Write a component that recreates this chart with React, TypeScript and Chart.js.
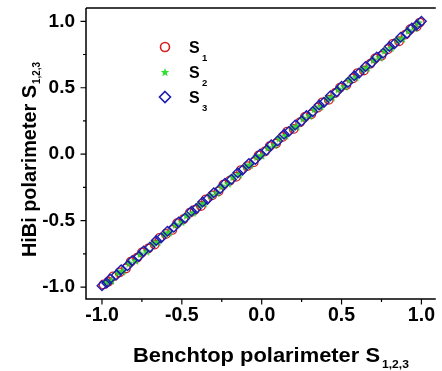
import React, { useEffect, useRef } from 'react';
import { Chart, registerables } from 'chart.js';
Chart.register(...registerables);

const S1_X = [-0.99,-0.96,-0.93,-0.89,-0.85,-0.82,-0.78,-0.75,-0.71,-0.67,-0.64,-0.60,-0.56,-0.53,-0.49,-0.45,-0.42,-0.38,-0.35,-0.31,-0.27,-0.24,-0.20,-0.16,-0.13,-0.09,-0.05,-0.02,0.02,0.05,0.09,0.13,0.16,0.20,0.24,0.27,0.31,0.35,0.38,0.42,0.46,0.49,0.53,0.57,0.60,0.64,0.68,0.71,0.75,0.79,0.82,0.86,0.90,0.93,0.97,0.99];
const S1_Y = [-0.98,-0.96,-0.92,-0.89,-0.86,-0.81,-0.78,-0.74,-0.71,-0.68,-0.63,-0.60,-0.57,-0.52,-0.49,-0.44,-0.42,-0.39,-0.34,-0.31,-0.28,-0.23,-0.20,-0.17,-0.12,-0.09,-0.06,-0.01,0.02,0.06,0.08,0.13,0.17,0.19,0.24,0.28,0.30,0.35,0.39,0.41,0.46,0.50,0.52,0.57,0.61,0.63,0.68,0.72,0.74,0.79,0.83,0.85,0.90,0.94,0.96,0.99];
const S2_X = [-0.97,-0.94,-0.90,-0.87,-0.83,-0.79,-0.76,-0.72,-0.68,-0.65,-0.61,-0.58,-0.54,-0.50,-0.47,-0.43,-0.39,-0.36,-0.32,-0.28,-0.25,-0.21,-0.18,-0.14,-0.10,-0.07,-0.03,0.00,0.04,0.08,0.11,0.15,0.19,0.22,0.26,0.30,0.33,0.37,0.41,0.44,0.48,0.52,0.55,0.59,0.63,0.66,0.70,0.74,0.77,0.81,0.85,0.88,0.92,0.96,0.98];
const S2_Y = [-0.96,-0.95,-0.89,-0.88,-0.82,-0.80,-0.75,-0.73,-0.67,-0.66,-0.60,-0.59,-0.53,-0.51,-0.46,-0.44,-0.38,-0.37,-0.31,-0.29,-0.24,-0.22,-0.17,-0.15,-0.09,-0.08,-0.02,-0.01,0.05,0.07,0.12,0.14,0.20,0.21,0.27,0.29,0.34,0.36,0.42,0.43,0.49,0.51,0.56,0.58,0.64,0.65,0.71,0.73,0.78,0.80,0.86,0.87,0.93,0.95,0.99];
const S3_X = [-1.00,-0.97,-0.95,-0.91,-0.88,-0.84,-0.81,-0.77,-0.74,-0.70,-0.66,-0.63,-0.59,-0.55,-0.52,-0.48,-0.44,-0.41,-0.37,-0.34,-0.30,-0.26,-0.23,-0.19,-0.15,-0.12,-0.08,-0.04,-0.01,0.03,0.06,0.10,0.14,0.17,0.21,0.25,0.28,0.32,0.36,0.39,0.43,0.47,0.50,0.54,0.58,0.61,0.65,0.69,0.72,0.76,0.80,0.83,0.87,0.91,0.94,0.97,1.00];
const S3_Y = [-0.99,-0.97,-0.94,-0.91,-0.87,-0.84,-0.80,-0.77,-0.73,-0.70,-0.65,-0.63,-0.58,-0.55,-0.51,-0.48,-0.43,-0.41,-0.36,-0.34,-0.29,-0.26,-0.22,-0.19,-0.14,-0.12,-0.07,-0.04,0.00,0.03,0.07,0.10,0.15,0.17,0.22,0.25,0.29,0.32,0.37,0.39,0.44,0.47,0.51,0.54,0.59,0.61,0.66,0.69,0.73,0.76,0.81,0.83,0.88,0.91,0.95,0.97,1.00];

const MAJOR_TICKS = [-1, -0.5, 0, 0.5, 1];
const MINOR_TICKS = [-0.75, -0.25, 0.25, 0.75];
const X_TITLE = 'Benchtop polarimeter S';
const Y_TITLE = 'HiBi polarimeter S';
const TITLE_SUB = '1,2,3';
const LEGEND_MAIN = ['S', 'S', 'S'];
const LEGEND_SUB = ['1', '2', '3'];

const RED = '#d21f1f';
const GREEN = '#2fe02f';
const BLUE = '#1c1cb0';
const FONT = '"Liberation Sans", Arial, sans-serif';

function starPath(ctx: CanvasRenderingContext2D, cx: number, cy: number, ro: number, ri: number) {
  ctx.beginPath();
  for (let i = 0; i < 10; i++) {
    const r = i % 2 === 0 ? ro : ri;
    const a = -Math.PI / 2 + (i * Math.PI) / 5;
    const px = cx + r * Math.cos(a);
    const py = cy + r * Math.sin(a);
    if (i === 0) ctx.moveTo(px, py); else ctx.lineTo(px, py);
  }
  ctx.closePath();
}

function makeStar(size: number) {
  const c = document.createElement('canvas');
  c.width = size; c.height = size;
  const g = c.getContext('2d')!;
  starPath(g, size / 2, size / 2 + 0.5, size / 2 - 0.5, size / 5);
  g.fillStyle = GREEN;
  g.fill();
  g.strokeStyle = '#22b022';
  g.lineWidth = 0.6;
  g.stroke();
  return c;
}

const decorPlugin = {
  id: 'decor',
  afterDraw(chart: any) {
    const { ctx, chartArea: a, scales } = chart;
    const xs = scales.x, ys = scales.y;
    ctx.save();
    ctx.strokeStyle = '#000';
    ctx.lineWidth = 1.5;
    ctx.beginPath();
    ctx.moveTo(a.left, a.top); ctx.lineTo(a.right, a.top);
    ctx.moveTo(a.left, a.top); ctx.lineTo(a.left, a.bottom);
    ctx.lineTo(a.right, a.bottom);
    ctx.stroke();
    ctx.lineWidth = 1.2;
    ctx.beginPath();
    const all = [...MAJOR_TICKS.map(v => [v, 5.5]), ...MINOR_TICKS.map(v => [v, 3])];
    for (const [v, len] of all) {
      const px = xs.getPixelForValue(v);
      ctx.moveTo(px, a.bottom); ctx.lineTo(px, a.bottom + len);
      const py = ys.getPixelForValue(v);
      ctx.moveTo(a.left, py); ctx.lineTo(a.left - len, py);
    }
    ctx.stroke();

    // X title
    ctx.fillStyle = '#000';
    ctx.textBaseline = 'alphabetic';
    ctx.textAlign = 'left';
    ctx.font = `bold 19.5px ${FONT}`;
    const wx = ctx.measureText(X_TITLE).width;
    const kx = 247 / wx;
    ctx.save();
    ctx.translate(133, 362);
    ctx.scale(kx, 1);
    ctx.fillText(X_TITLE, 0, 0);
    ctx.restore();
    ctx.font = `bold 11px ${FONT}`;
    ctx.save();
    ctx.translate(382, 368);
    ctx.scale(1.1, 1);
    ctx.fillText(TITLE_SUB, 0, 0);
    ctx.restore();

    // Y title
    ctx.font = `bold 20px ${FONT}`;
    const wy = ctx.measureText(Y_TITLE).width;
    const ky = 172 / wy;
    ctx.save();
    ctx.translate(36, 257);
    ctx.rotate(-Math.PI / 2);
    ctx.scale(ky, 1);
    ctx.fillText(Y_TITLE, 0, 0);
    ctx.restore();
    ctx.font = `bold 11px ${FONT}`;
    ctx.save();
    ctx.translate(40, 84);
    ctx.rotate(-Math.PI / 2);
    ctx.scale(0.9, 1);
    ctx.fillText(TITLE_SUB, 0, 0);
    ctx.restore();

    // Legend
    const lx = 165;
    const rows = [47, 72, 97];
    ctx.lineWidth = 1.6;
    ctx.strokeStyle = RED;
    ctx.beginPath(); ctx.arc(lx, rows[0], 4.5, 0, Math.PI * 2); ctx.stroke();
    starPath(ctx, lx, rows[1] + 0.5, 4.5, 1.9);
    ctx.fillStyle = GREEN; ctx.fill();
    ctx.strokeStyle = BLUE;
    ctx.beginPath();
    ctx.moveTo(lx, rows[2] - 5.5); ctx.lineTo(lx + 5.5, rows[2]);
    ctx.lineTo(lx, rows[2] + 5.5); ctx.lineTo(lx - 5.5, rows[2]); ctx.closePath();
    ctx.stroke();
    ctx.fillStyle = '#000';
    for (let i = 0; i < 3; i++) {
      ctx.font = `bold 16px ${FONT}`;
      ctx.fillText(LEGEND_MAIN[i], 189, rows[i] + 6);
      ctx.font = `bold 9.5px ${FONT}`;
      ctx.fillText(LEGEND_SUB[i], 202, rows[i] + 14);
    }
    ctx.restore();
  },
};

export default function App() {
  const ref = useRef<HTMLCanvasElement>(null);
  useEffect(() => {
    const star = makeStar(9);
    const toPts = (xs: number[], ys: number[]) => xs.map((v, i) => ({ x: v, y: ys[i] }));
    const tickList = [...MAJOR_TICKS, ...MINOR_TICKS].sort((p, q) => p - q);
    const label = (v: any) => (MAJOR_TICKS.includes(Number(v)) ? Number(v).toFixed(1) : '');
    const chart = new Chart(ref.current!, {
      type: 'scatter',
      data: {
        datasets: [
          { label: 'S1', data: toPts(S1_X, S1_Y), pointStyle: 'circle', pointRadius: 4.3, borderColor: RED, backgroundColor: 'rgba(0,0,0,0)', borderWidth: 1.3, order: 3 },
          { label: 'S2', data: toPts(S2_X, S2_Y), pointStyle: star as any, pointRadius: 4, borderColor: GREEN, backgroundColor: GREEN, order: 2 },
          { label: 'S3', data: toPts(S3_X, S3_Y), pointStyle: 'rectRot', pointRadius: 4.8, borderColor: BLUE, backgroundColor: 'rgba(0,0,0,0)', borderWidth: 1.4, order: 1 },
        ],
      },
      options: {
        animation: false,
        responsive: false,
        layout: { padding: { top: 8, left: 0, right: 0, bottom: 0 } },
        plugins: { legend: { display: false }, tooltip: { enabled: false } },
        scales: {
          x: {
            type: 'linear', min: -1.1, max: 1.09,
            afterBuildTicks: (s: any) => { s.ticks = tickList.map(v => ({ value: v })); },
            afterFit: (s: any) => { s.height = 72; s.paddingLeft = 0; s.paddingRight = 0; },
            grid: { display: false, drawTicks: false },
            border: { display: false },
            ticks: { autoSkip: false, maxRotation: 0, padding: 5, color: '#000', font: { family: FONT, size: 19.5, weight: 'bold' }, callback: label },
          },
          y: {
            type: 'linear', min: -1.09, max: 1.1,
            afterBuildTicks: (s: any) => { s.ticks = tickList.map(v => ({ value: v })); },
            afterFit: (s: any) => { s.width = 86; s.paddingTop = 0; s.paddingBottom = 0; },
            grid: { display: false, drawTicks: false },
            border: { display: false },
            ticks: { autoSkip: false, padding: 11, color: '#000', font: { family: FONT, size: 19, weight: 'bold' }, callback: label },
          },
        },
      },
      plugins: [decorPlugin],
    });
    return () => chart.destroy();
  }, []);
  return (
    <div style={{ position: 'fixed', left: 0, top: 0, width: 442, height: 371, background: '#fff' }}>
      <canvas ref={ref} width={442} height={371} />
    </div>
  );
}
